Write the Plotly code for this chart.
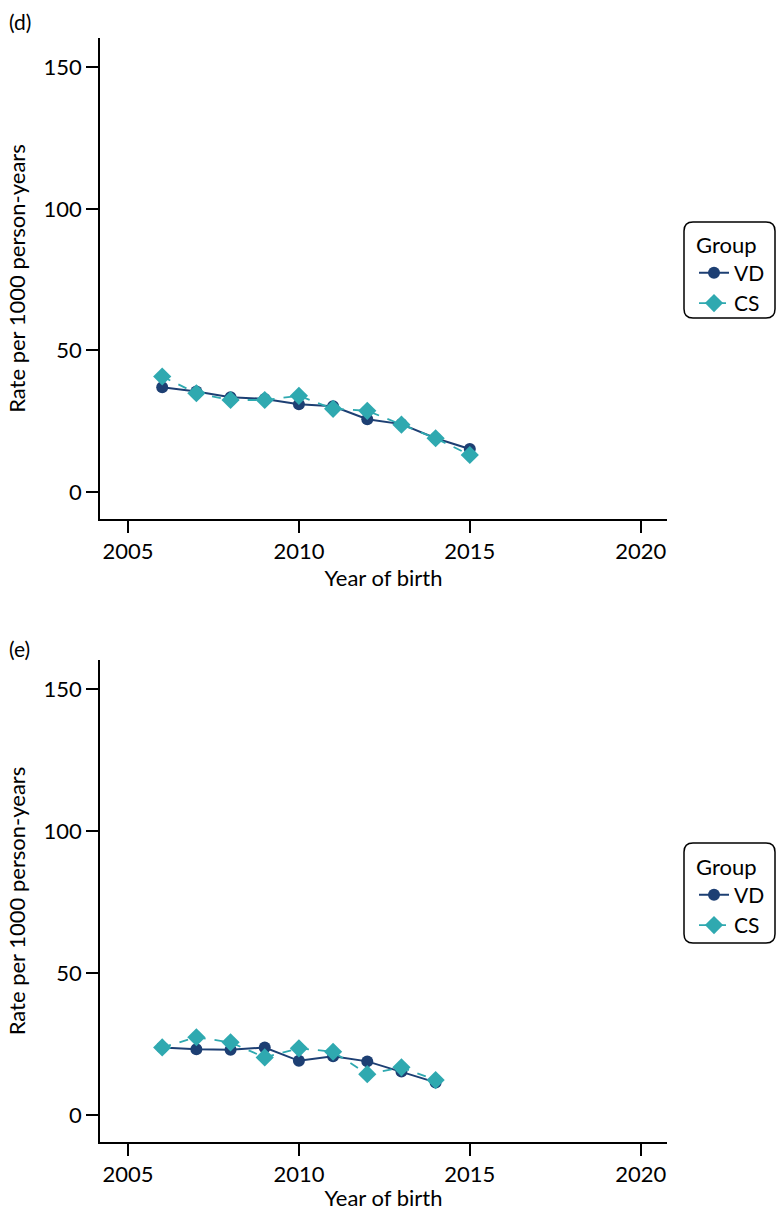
import plotly.graph_objects as go
from plotly.subplots import make_subplots

years_d = [2006, 2007, 2008, 2009, 2010, 2011, 2012, 2013, 2014, 2015]
vd_d = [37.0, 35.5, 33.5, 32.9, 31.0, 30.3, 25.7, 24.0, 19.0, 15.2]
cs_d = [40.8, 34.9, 32.5, 32.5, 34.0, 29.4, 28.7, 23.8, 19.0, 13.1]

years_e = [2006, 2007, 2008, 2009, 2010, 2011, 2012, 2013, 2014]
vd_e = [23.8, 23.2, 23.0, 23.8, 19.1, 20.7, 18.9, 15.3, 11.5]
cs_e = [23.8, 27.4, 25.6, 20.3, 23.5, 22.3, 14.4, 16.8, 12.3]

panel_labels = ["(d)", "(e)"]
x_ticks = [2005, 2010, 2015, 2020]
y_ticks = [0, 50, 100, 150]

VD_COLOR = "#1d3f73"
CS_COLOR = "#2fa9b0"
FONT = "Lato, 'Open Sans', sans-serif"
FS = 22

W, H = 776, 1211
L, R, T, B = 100, 109, 38, 69
PW, PH = W - L - R, H - T - B


def px_x(px):
    return (px - L) / PW


def px_y(py):
    return (H - B - py) / PH


fig = make_subplots(rows=2, cols=1)

panels = [(years_d, vd_d, cs_d, "legend"), (years_e, vd_e, cs_e, "legend2")]
for i, (yrs, vd, cs, leg) in enumerate(panels, start=1):
    fig.add_trace(go.Scatter(
        x=yrs, y=vd, name="VD", mode="lines+markers",
        line=dict(color=VD_COLOR, width=2),
        marker=dict(symbol="circle", size=12, color=VD_COLOR),
        legend=leg), row=i, col=1)
    fig.add_trace(go.Scatter(
        x=yrs, y=cs, name="CS", mode="lines+markers",
        line=dict(color=CS_COLOR, width=1.8, dash="dash"),
        marker=dict(symbol="diamond", size=14, color=CS_COLOR),
        legend=leg), row=i, col=1)

axis_common = dict(showgrid=False, zeroline=False, showline=True, linecolor="black",
                   linewidth=1.5, ticks="outside", ticklen=12, tickwidth=1.5,
                   tickcolor="black", automargin=False,
                   tickfont=dict(size=FS, color="black", family=FONT))

for i in (1, 2):
    fig.update_xaxes(range=[2004.18, 2020.77], tickvals=x_ticks,
                     title=dict(text="Year of birth", font=dict(size=FS, color="black", family=FONT), standoff=2),
                     row=i, col=1, **axis_common)
    fig.update_yaxes(range=[-9.5, 160.3], tickvals=y_ticks,
                     title=dict(text="Rate per 1000 person-years", font=dict(size=FS, color="black", family=FONT), standoff=12),
                     row=i, col=1, **axis_common)

fig.update_layout(
    xaxis=dict(domain=[0, 1], anchor="y"),
    yaxis=dict(domain=[px_y(519), 1.0], anchor="x"),
    xaxis2=dict(domain=[0, 1], anchor="y2"),
    yaxis2=dict(domain=[0.0, px_y(660)], anchor="x2"),
)

leg_common = dict(
    title=dict(text="Group", font=dict(size=FS, color="black", family=FONT)),
    font=dict(size=FS - 1, color="black", family=FONT),
    borderwidth=0, bgcolor="rgba(0,0,0,0)",
    xref="container", yref="container",
    xanchor="left", yanchor="top", tracegroupgap=0, itemwidth=30,
)
fig.update_layout(
    legend=dict(x=694 / W, y=1 - 224 / H, **leg_common),
    legend2=dict(x=694 / W, y=1 - 846 / H, **leg_common),
)


def rounded_rect(x0, y0, x1, y1, r):
    X0, X1 = px_x(x0), px_x(x1)
    Y0, Y1 = px_y(y0), px_y(y1)
    rx, ry = r / PW, r / PH
    return (f"M {X0+rx},{Y0} L {X1-rx},{Y0} Q {X1},{Y0} {X1},{Y0-ry} "
            f"L {X1},{Y1+ry} Q {X1},{Y1} {X1-rx},{Y1} L {X0+rx},{Y1} "
            f"Q {X0},{Y1} {X0},{Y1+ry} L {X0},{Y0-ry} Q {X0},{Y0} {X0+rx},{Y0} Z")


for top, bot in [(222, 318), (843, 943)]:
    fig.add_shape(type="path", xref="paper", yref="paper",
                  path=rounded_rect(684, top, 775, bot, 9),
                  line=dict(color="black", width=1.5), layer="below")

for lbl, py in zip(panel_labels, [22, 648]):
    fig.add_annotation(text=lbl, xref="paper", yref="paper", x=px_x(7), y=px_y(py),
                       xanchor="left", yanchor="middle", showarrow=False,
                       font=dict(size=FS - 1, color="black", family=FONT))

fig.update_layout(
    width=W, height=H,
    margin=dict(l=L, r=R, t=T, b=B, autoexpand=False),
    plot_bgcolor="white", paper_bgcolor="white",
    font=dict(family=FONT, color="black"),
    showlegend=True,
)

fig.write_html("out.html", config={"displayModeBar": False},
               post_script="document.body.style.margin='0';document.body.style.overflow='hidden';")
